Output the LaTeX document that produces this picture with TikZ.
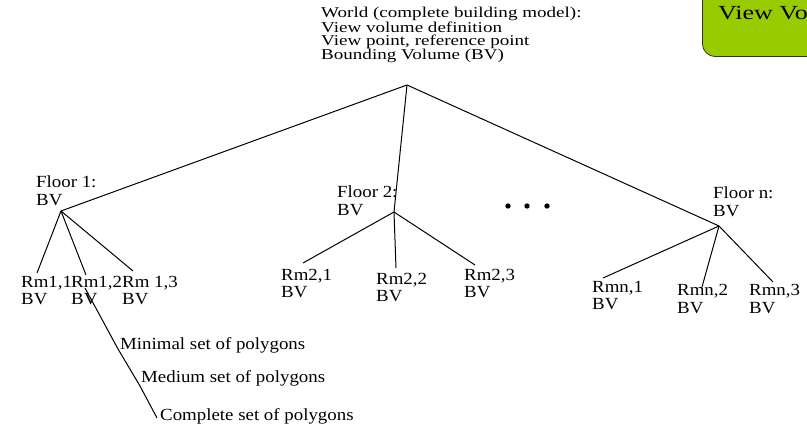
\documentclass[tikz,border=0pt]{standalone}
\usepackage{fontspec}
\setmainfont[FakeStretch=1.11]{Liberation Serif}
\newfontfamily\worldfont[FakeStretch=1.27]{Liberation Serif}
\newfontfamily\legendfont[FakeStretch=1.3]{Liberation Serif}
\definecolor{boxgreen}{RGB}{153,204,0}
\definecolor{boxedge}{RGB}{51,51,51}

\begin{document}
\begin{tikzpicture}[x=1pt,y=-1pt,
  % labels are placed by the baseline of their last line
  lbl/.style={anchor=base west, inner sep=0pt, align=left,
              font=\fontsize{17}{17.5}\selectfont},
  toplbl/.style={lbl, font=\worldfont\fontsize{15}{13}\selectfont},
  branch/.style={line width=1pt, black},
  dot/.style={circle, fill=black, inner sep=0pt, minimum size=5.4pt}]

\useasboundingbox (0,0) rectangle (807,427);
\clip (0,0) rectangle (807,427);

% legend box in the upper right corner
\node[draw=boxedge, line width=0.8pt, fill=boxgreen, rounded corners=13pt,
      anchor=south west, minimum width=140pt, minimum height=80pt, inner sep=0pt]
      (legend) at (702,57) {};
\node[lbl, font=\legendfont\fontsize{20}{21}\selectfont] (legendtxt) at (718,19.5) {View Volume};

% root of the hierarchy
\node[toplbl] (world) at (321,60)
  {World (complete building model):\\View volume definition\\View point, reference point\\Bounding Volume (BV)};

% floors
\node[lbl] (floor1) at (36,205.5) {Floor 1:\\BV};
\node[lbl] (floor2) at (337,215.5) {Floor 2:\\BV};
\node[lbl] (floorn) at (713,216.5) {Floor n:\\BV};

% rooms
\node[lbl] (rm11) at (21,305)  {Rm1,1\\BV};
\node[lbl] (rm12) at (71,305)  {Rm1,2\\BV};
\node[lbl] (rm13) at (122,305) {Rm 1,3\\BV};
\node[lbl] (rm21) at (281,298) {Rm2,1\\BV};
\node[lbl] (rm22) at (376,302) {Rm2,2\\BV};
\node[lbl] (rm23) at (464,298) {Rm2,3\\BV};
\node[lbl] (rmn1) at (592,310) {Rmn,1\\BV};
\node[lbl] (rmn2) at (677,313.5) {Rmn,2\\BV};
\node[lbl] (rmn3) at (749,313.5) {Rmn,3\\BV};

% levels of detail for one room
\node[lbl] (minimal)  at (120,350) {Minimal set of polygons};
\node[lbl] (medium)   at (141,383) {Medium set of polygons};
\node[lbl] (complete) at (160,421) {Complete set of polygons};

% omitted floors
\node[dot] (d1) at (508,206) {};
\node[dot] (d2) at (527,206) {};
\node[dot] (d3) at (547,206) {};

% branch points and line ends
\coordinate (apex) at (407,85);
\coordinate (f1) at (61,211);
\coordinate (f2) at (394,212);
\coordinate (fn) at (719,226);
\coordinate (r11) at (37,273);
\coordinate (r12) at (86,275);
\coordinate (r13) at (133,271);
\coordinate (r21) at (303,263);
\coordinate (r22) at (396,268);
\coordinate (r23) at (475,265);
\coordinate (rn1) at (603,278);
\coordinate (rn2) at (702,287);
\coordinate (rn3) at (773,282);
\coordinate (p0) at (85,288);
\coordinate (p1) at (118,349);
\coordinate (p2) at (140,386);
\coordinate (p3) at (157,418);

% tree
\draw[branch] (apex) -- (f1);
\draw[branch] (apex) -- (f2);
\draw[branch] (apex) -- (fn);
\draw[branch] (f1) -- (r11);
\draw[branch] (f1) -- (r12);
\draw[branch] (f1) -- (r13);
\draw[branch] (f2) -- (r21);
\draw[branch] (f2) -- (r22);
\draw[branch] (f2) -- (r23);
\draw[branch] (fn) -- (rn1);
\draw[branch] (fn) -- (rn2);
\draw[branch] (fn) -- (rn3);
\draw[branch] (p0) -- (p1) -- (p2) -- (p3);
\end{tikzpicture}
\end{document}
